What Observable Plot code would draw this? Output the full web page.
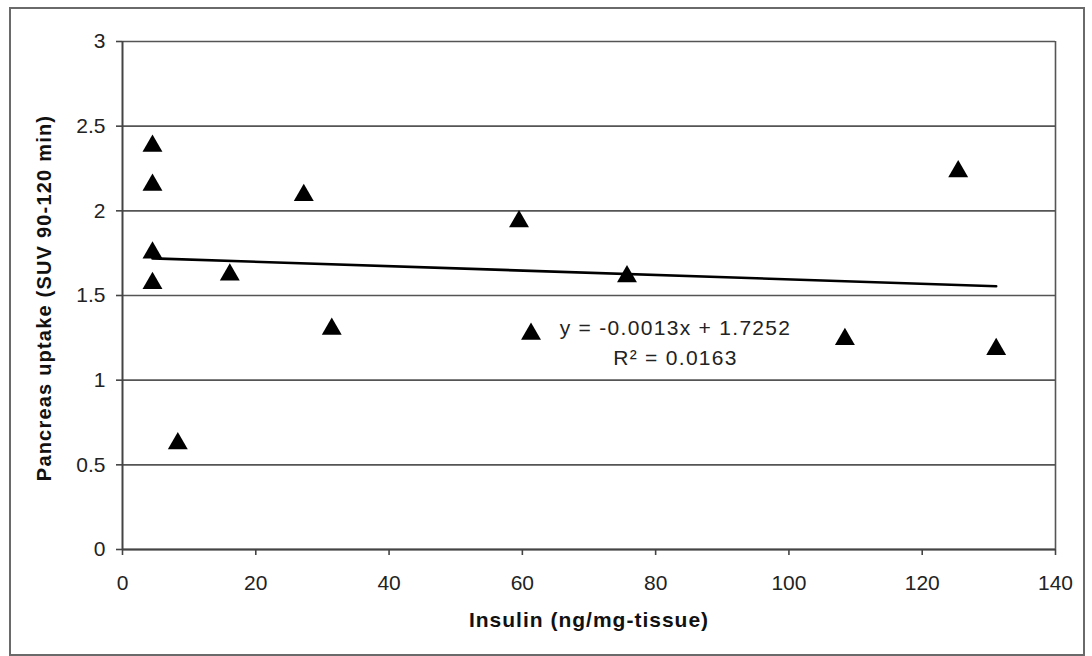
<!DOCTYPE html>
<html>
<head>
<meta charset="utf-8">
<script src="https://cdn.jsdelivr.net/npm/d3@7"></script>
<script src="https://cdn.jsdelivr.net/npm/@observablehq/plot@0.6"></script>
<style>
  html, body { margin: 0; padding: 0; background: #fff; }
  #wrap { position: relative; width: 1092px; height: 656px; overflow: hidden; }
  #border { position: absolute; left: 9px; top: 7px; width: 1072px; height: 645px; border: 2px solid #6a6a6a; pointer-events: none; }
</style>
</head>
<body>
<div id="wrap"><div id="border"></div></div>
<script>
// Data
const insulin = [4.5, 4.5, 4.5, 4.5, 8.3, 16.1, 27.2, 31.4, 59.5, 61.3, 75.7, 108.4, 125.4, 131.1];
const uptake  = [2.40, 2.17, 1.77, 1.59, 0.644, 1.64, 2.11, 1.32, 1.955, 1.29, 1.63, 1.26, 2.25, 1.20];

// Trendline shown in the chart
const slope = -0.0013;
const intercept = 1.7252;
const r2 = 0.0163;

const xTicks = [0, 20, 40, 60, 80, 100, 120, 140];
const yTicks = [0, 0.5, 1, 1.5, 2, 2.5, 3];

const xTitle = "Insulin (ng/mg-tissue)";
const yTitle = "Pancreas uptake (SUV 90-120 min)";

const points = insulin.map((x, i) => ({x, y: uptake[i]}));
const [xmin, xmax] = d3.extent(insulin);
const trend = [xmin, xmax].map(x => ({x, y: slope * x + intercept}));
const eqLine1 = `y = ${slope.toFixed(4)}x + ${intercept.toFixed(4)}`;
const eqLine2 = `R\u00B2 = ${r2.toFixed(4)}`;
const eqText = `${eqLine1}\n${eqLine2}`;

const chart = Plot.plot({
  width: 1092,
  height: 656,
  marginLeft: 122,
  marginRight: 37,
  marginTop: 41,
  marginBottom: 107,
  style: { fontFamily: "'Liberation Sans', Arial, sans-serif", background: "transparent", color: "#222" },
  x: { domain: [0, 140] },
  y: { domain: [0, 3] },
  marks: [
    Plot.gridY(yTicks, { stroke: "#555", strokeOpacity: 1, strokeWidth: 1.6 }),
    Plot.ruleX([140], { stroke: "#555", strokeWidth: 1.6 }),
    Plot.axisY({ ticks: yTicks, tickSize: 6, tickPadding: 11, fontSize: 21, label: null, stroke: "#444", strokeWidth: 1.6, tickFormat: d => String(d) }),
    Plot.axisX({ ticks: xTicks, tickSize: 6, tickPadding: 20, fontSize: 21, label: null, stroke: "#444", strokeWidth: 1.6, tickFormat: d => String(d) }),
    Plot.ruleY([0], { stroke: "#444", strokeWidth: 2 }),
    Plot.ruleX([0], { stroke: "#444", strokeWidth: 2 }),
    Plot.line(trend, { x: "x", y: "y", stroke: "#000", strokeWidth: 2.6 }),
    Plot.dot(points, { x: "x", y: "y", symbol: "triangle", r: 7.4, fill: "#000", stroke: "none", dy: 3 }),
    Plot.text([eqText], { frameAnchor: "top-left", dx: 553, dy: 299, text: d => d, textAnchor: "middle", lineAnchor: "middle", lineHeight: 1.43, fontSize: 21, fill: "#222" }),
    Plot.text([yTitle], { frameAnchor: "left", dx: -78, dy: 2.5, text: d => d, rotate: -90, textAnchor: "middle", lineAnchor: "middle", fontSize: 20, fontWeight: "bold", fill: "#111" }),
    Plot.text([xTitle], { frameAnchor: "bottom", dx: 0, dy: 71, text: d => d, textAnchor: "middle", lineAnchor: "middle", fontSize: 21, fontWeight: "bold", fill: "#111" })
  ]
});

const svg = d3.select(chart);
svg.selectAll("text").each(function () {
  const t = this.textContent;
  if (t === yTitle) this.setAttribute("letter-spacing", "1.2");
  else if (t === xTitle) this.setAttribute("letter-spacing", "1");
});
svg.selectAll("tspan").each(function () {
  const t = this.textContent;
  if (t === eqLine1 || t === eqLine2) this.setAttribute("letter-spacing", "1.3");
});

document.getElementById("wrap").prepend(chart);
</script>
</body>
</html>
